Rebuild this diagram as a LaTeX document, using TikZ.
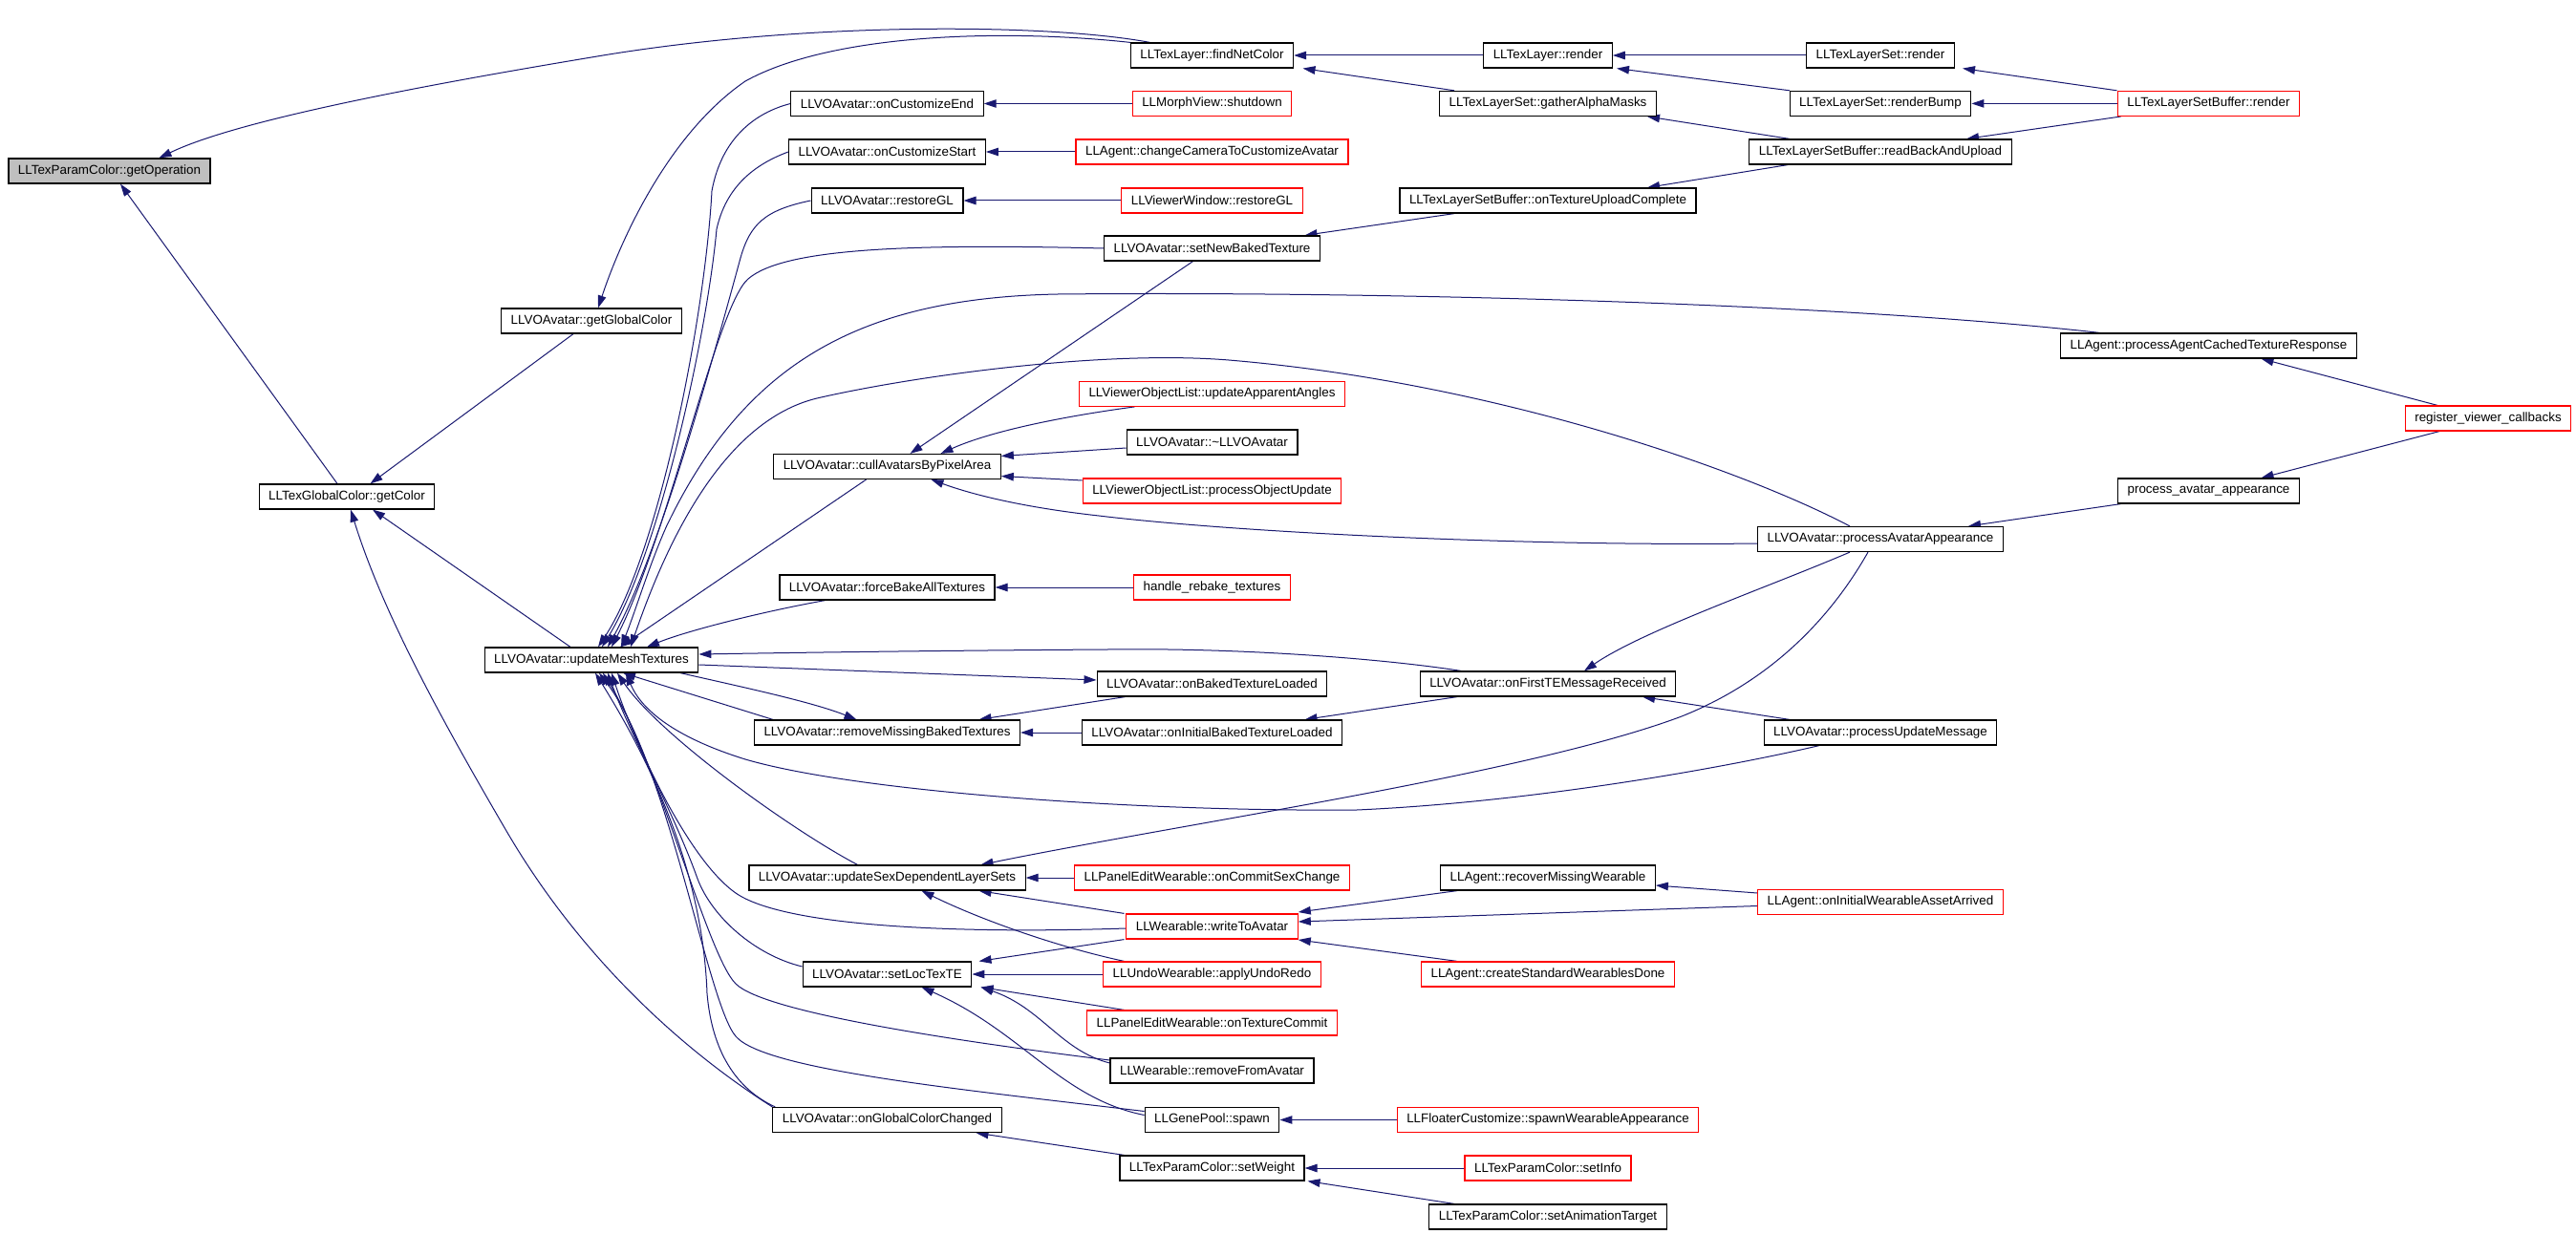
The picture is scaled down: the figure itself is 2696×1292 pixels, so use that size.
\documentclass[tikz,border=0pt]{standalone}
\usepackage{fontspec}
\setmainfont{Liberation Sans}
\usetikzlibrary{arrows.meta,backgrounds}
\definecolor{edgec}{HTML}{191970}
\definecolor{rootfill}{HTML}{BFBFBF}
\tikzset{
  fn/.style={draw=black, line width=1.2pt, fill=white, minimum height=26pt,
    inner xsep=10pt, inner ysep=0pt, font=\fontsize{13.4}{16}\selectfont},
  fnred/.style={fn, draw=red},
  fnroot/.style={fn, fill=rootfill},
  e/.style={draw=edgec, line width=1pt, -{Triangle[length=13pt,width=8.5pt]}},
}
\begin{document}
\begin{tikzpicture}[x=1pt,y=-1pt]
\useasboundingbox (0,0) rectangle (2696,1292);
% ---------- column 0-2
\node[fnroot] (gop) at (114.5,179) {LLTexParamColor::getOperation};
\node[fn] (gcol) at (363,520) {LLTexGlobalColor::getColor};
\node[fn] (ggc) at (619,336) {LLVOAvatar::getGlobalColor};
\node[fn] (umt) at (619,691) {LLVOAvatar::updateMeshTextures};
% ---------- column 3
\node[fn] (oce) at (928.5,108.5) {LLVOAvatar::onCustomizeEnd};
\node[fn] (ocs) at (928.5,159) {LLVOAvatar::onCustomizeStart};
\node[fn] (rgl) at (928.5,210) {LLVOAvatar::restoreGL};
\node[fn] (cull) at (928.5,488.5) {LLVOAvatar::cullAvatarsByPixelArea};
\node[fn] (fbt) at (928.5,615) {LLVOAvatar::forceBakeAllTextures};
\node[fn] (rmb) at (928.5,767) {LLVOAvatar::removeMissingBakedTextures};
\node[fn] (usd) at (928.5,919) {LLVOAvatar::updateSexDependentLayerSets};
\node[fn] (sltt) at (928.5,1020) {LLVOAvatar::setLocTexTE};
\node[fn] (ogc) at (928.5,1172.5) {LLVOAvatar::onGlobalColorChanged};
% ---------- column 4
\node[fn] (fnc) at (1268.5,58) {LLTexLayer::findNetColor};
\node[fnred] (mvs) at (1268.5,108.5) {LLMorphView::shutdown};
\node[fnred] (ccc) at (1268.5,159) {LLAgent::changeCameraToCustomizeAvatar};
\node[fnred] (vwr) at (1268.5,210) {LLViewerWindow::restoreGL};
\node[fn] (snb) at (1268.5,260) {LLVOAvatar::setNewBakedTexture};
\node[fnred] (uaa) at (1268.5,412.3) {LLViewerObjectList::updateApparentAngles};
\node[fn] (dtor) at (1268.5,463) {LLVOAvatar::\textasciitilde LLVOAvatar};
\node[fnred] (pou) at (1268.5,514) {LLViewerObjectList::processObjectUpdate};
\node[fnred] (hrt) at (1268.5,615) {handle\_rebake\_textures};
\node[fn] (obt) at (1268.5,716) {LLVOAvatar::onBakedTextureLoaded};
\node[fn] (oibt) at (1268.5,767) {LLVOAvatar::onInitialBakedTextureLoaded};
\node[fnred] (ocsc) at (1268.5,919) {LLPanelEditWearable::onCommitSexChange};
\node[fnred] (wta) at (1268.5,970) {LLWearable::writeToAvatar};
\node[fnred] (aur) at (1268.5,1020) {LLUndoWearable::applyUndoRedo};
\node[fnred] (otc) at (1268.5,1071) {LLPanelEditWearable::onTextureCommit};
\node[fn] (rfa) at (1268.5,1121) {LLWearable::removeFromAvatar};
\node[fn] (gps) at (1268.5,1172.5) {LLGenePool::spawn};
\node[fn] (sw) at (1268.5,1223) {LLTexParamColor::setWeight};
% ---------- column 5
\node[fn] (tlr) at (1620,58) {LLTexLayer::render};
\node[fn] (gam) at (1620,108.4) {LLTexLayerSet::gatherAlphaMasks};
\node[fn] (tuc) at (1620,210) {LLTexLayerSetBuffer::onTextureUploadComplete};
\node[fn] (oft) at (1620,716) {LLVOAvatar::onFirstTEMessageReceived};
\node[fn] (rmw) at (1620,919) {LLAgent::recoverMissingWearable};
\node[fnred] (csw) at (1620,1020) {LLAgent::createStandardWearablesDone};
\node[fnred] (fcs) at (1620,1172.5) {LLFloaterCustomize::spawnWearableAppearance};
\node[fnred] (si) at (1620,1223) {LLTexParamColor::setInfo};
\node[fn] (sat) at (1620,1274) {LLTexParamColor::setAnimationTarget};
% ---------- column 6
\node[fn] (tlsr) at (1968,58) {LLTexLayerSet::render};
\node[fn] (rb) at (1968,108.4) {LLTexLayerSet::renderBump};
\node[fn] (rbu) at (1968,159) {LLTexLayerSetBuffer::readBackAndUpload};
\node[fn] (paa) at (1968,564.5) {LLVOAvatar::processAvatarAppearance};
\node[fn] (pum) at (1968,767) {LLVOAvatar::processUpdateMessage};
\node[fnred] (oiwa) at (1968,944.5) {LLAgent::onInitialWearableAssetArrived};
% ---------- column 7-8
\node[fnred] (tlsbr) at (2311.5,108.4) {LLTexLayerSetBuffer::render};
\node[fn] (pact) at (2311.5,362) {LLAgent::processAgentCachedTextureResponse};
\node[fn] (pava) at (2311.5,514) {process\_avatar\_appearance};
\node[fnred] (rvc) at (2604,438) {register\_viewer\_callbacks};

\begin{scope}[on background layer]
\fill[white] (0,0) rectangle (2696,1292);
% into getOperation
\draw[e] ([xshift=-65pt]fnc.north) .. controls (1100,25) and (850,22) .. (631,58) .. controls (450,88) and (250,125) .. ([xshift=52pt]gop.north);
\draw[e] ([xshift=-10pt]gcol.north) -- ([xshift=11.5pt]gop.south);
% into getColor
\draw[e] ([xshift=-19pt]ggc.south) -- ([xshift=24.5pt]gcol.north);
\draw[e] ([xshift=-22pt]umt.north) -- ([xshift=27pt]gcol.south);
\draw[e] (ogc.north west) .. controls (700,1090) and (600,990) .. (530,870) .. controls (460,750) and (400,640) .. ([xshift=4pt]gcol.south);
% into getGlobalColor
\draw[e] (fnc.north west) .. controls (1050,30) and (870,35) .. (780,85) .. controls (700,140) and (650,250) .. ([xshift=7pt]ggc.north);
% into updateMeshTextures (top)
\draw[e] (oce.west) .. controls (790,118) and (755,145) .. (745,200) .. controls (738,330) and (690,580) .. ([xshift=7pt]umt.north);
\draw[e] (ocs.west) .. controls (790,172) and (760,195) .. (750,240) .. controls (740,350) and (690,580) .. ([xshift=11pt]umt.north);
\draw[e] (rgl.west) .. controls (800,220) and (785,235) .. (775,270) .. controls (745,380) and (690,580) .. ([xshift=17pt]umt.north);
\draw[e] (snb.west) .. controls (950,255) and (820,260) .. (783,292) .. controls (750,320) and (700,560) .. ([xshift=21pt]umt.north);
\draw[e] ([xshift=-114pt]pact.north) .. controls (1900,315) and (1400,305) .. (1107,308) .. controls (900,312) and (780,380) .. (698,550) .. controls (680,590) and (665,640) .. ([xshift=31pt]umt.north);
\draw[e] ([xshift=-32pt]paa.north) .. controls (1820,490) and (1560,400) .. (1286,377) .. controls (1150,366) and (950,395) .. (855,417) .. controls (760,440) and (700,560) .. ([xshift=41pt]umt.north);
\draw[e] ([xshift=-22pt]cull.south) -- ([xshift=30pt]umt.north);
\draw[e] ([xshift=-65pt]fbt.south) .. controls (800,640) and (720,660) .. ([xshift=58pt]umt.north);
% into updateMeshTextures (right / bottom)
\draw[e] ([xshift=-91pt]oft.north) .. controls (1450,690) and (1300,678) .. (1159,680) .. controls (1000,681) and (850,683) .. ([yshift=6pt]umt.east);
\draw[e] ([xshift=20pt]rmb.north west) -- ([xshift=33pt]umt.south);
\draw[e] ([xshift=-31pt]usd.north) .. controls (830,870) and (690,770) .. ([xshift=27pt]umt.south);
\draw[e] ([yshift=-2pt]wta.west) .. controls (1000,978) and (820,970) .. (770,935) .. controls (720,900) and (665,780) .. ([xshift=21pt]umt.south);
\draw[e] ([yshift=8pt]sltt.west) .. controls (790,1000) and (745,960) .. (730,920) .. controls (705,850) and (660,770) .. ([xshift=17pt]umt.south);
\draw[e] ([yshift=11pt]rfa.west) .. controls (1000,1090) and (800,1060) .. (770,1030) .. controls (740,1000) and (690,800) .. ([xshift=12pt]umt.south);
\draw[e] ([yshift=9pt]gps.west) .. controls (1000,1140) and (800,1120) .. (770,1085) .. controls (740,1050) and (700,800) .. ([xshift=8pt]umt.south);
\draw[e] ([xshift=3pt]ogc.north west) .. controls (770,1140) and (745,1100) .. (740,1040) .. controls (735,900) and (670,780) .. ([xshift=4pt]umt.south);
\draw[e] ([xshift=-64pt]pum.south) .. controls (1800,805) and (1600,840) .. (1420,848) .. controls (1200,850) and (900,830) .. (780,795) .. controls (700,770) and (670,740) .. ([xshift=36pt]umt.south);
% from updateMeshTextures
\draw[e] ([yshift=-5pt]umt.east) -- ([yshift=4pt]obt.west);
\draw[e] ([xshift=93pt]umt.south) .. controls (780,720) and (850,735) .. ([xshift=-32pt]rmb.north);
% into cullAvatarsByPixelArea
\draw[e] ([xshift=-20pt]snb.south) -- ([xshift=24pt]cull.north);
\draw[e] ([xshift=-81pt]uaa.south) .. controls (1120,435) and (1040,450) .. ([xshift=56pt]cull.north);
\draw[e] ([yshift=-6pt]dtor.west) -- ([yshift=11pt]cull.east);
\draw[e] ([yshift=11pt]pou.west) -- ([yshift=-10pt]cull.east);
\draw[e] ([yshift=-4.5pt]paa.west) .. controls (1600,572) and (1300,558) .. (1150,540) .. controls (1060,530) and (1010,515) .. ([xshift=46pt]cull.south);
% column 3 horizontal callers
\draw[e] (mvs.west) -- (oce.east);
\draw[e] (ccc.west) -- (ocs.east);
\draw[e] (vwr.west) -- (rgl.east);
\draw[e] (hrt.west) -- (fbt.east);
\draw[e] (oibt.west) -- (rmb.east);
\draw[e] (ocsc.west) -- (usd.east);
\draw[e] (aur.west) -- (sltt.east);
% texture layer chain
\draw[e] ([xshift=-98pt]tuc.south) -- ([xshift=97pt]snb.north);
\draw[e] ([xshift=-97pt]rbu.south) -- ([xshift=104pt]tuc.north);
\draw[e] ([xshift=-95pt]rbu.north) -- ([xshift=104pt]gam.south);
\draw[e] (tlr.west) -- (fnc.east);
\draw[e] ([xshift=-98pt]gam.north) -- ([xshift=95pt]fnc.south);
\draw[e] (tlsr.west) -- (tlr.east);
\draw[e] ([xshift=-95pt]rb.north) -- ([xshift=72pt]tlr.south);
\draw[e] ([xshift=-96pt]tlsbr.north) -- ([xshift=86pt]tlsr.south);
\draw[e] (tlsbr.west) -- (rb.east);
\draw[e] ([xshift=-92pt]tlsbr.south) -- ([xshift=90pt]rbu.north);
% register / appearance
\draw[e] ([xshift=-53pt]rvc.north) -- ([xshift=55pt]pact.south);
\draw[e] ([xshift=-51pt]rvc.south) -- ([xshift=55pt]pava.north);
\draw[e] ([xshift=-92pt]pava.south) -- ([xshift=92pt]paa.north);
\draw[e] ([xshift=-32pt]paa.south) .. controls (1850,615) and (1720,660) .. ([xshift=38pt]oft.north);
\draw[e] ([xshift=-13pt]paa.south) .. controls (1920,640) and (1860,710) .. (1760,750) .. controls (1600,810) and (1250,860) .. ([xshift=98pt]usd.north);
\draw[e] ([xshift=-95pt]oft.south) -- ([xshift=97pt]oibt.north);
\draw[e] ([xshift=-95pt]pum.north) -- ([xshift=99pt]oft.south);
\draw[e] ([xshift=-91pt]obt.south) -- ([xshift=96pt]rmb.north);
% sex dependent / loctex
\draw[e] ([xshift=-92pt]wta.north) -- ([xshift=96pt]usd.south);
\draw[e] ([xshift=-92pt]aur.north) .. controls (1100,990) and (1020,960) .. ([xshift=36pt]usd.south);
\draw[e] ([xshift=-92pt]wta.south) -- ([xshift=96pt]sltt.north);
\draw[e] ([xshift=-92pt]otc.north) -- ([xshift=98pt]sltt.south);
\draw[e] ([yshift=8pt]rfa.west) .. controls (1110,1100) and (1090,1055) .. ([xshift=98pt]sltt.south);
\draw[e] ([yshift=5pt]gps.west) .. controls (1110,1150) and (1070,1080) .. ([xshift=36pt]sltt.south);
% wearables
\draw[e] ([xshift=-95pt]rmw.south) -- ([yshift=15pt]wta.east);
\draw[e] ([yshift=-4pt]oiwa.west) -- ([yshift=5pt]wta.east);
\draw[e] ([xshift=-95pt]csw.north) -- ([yshift=-14pt]wta.east);
\draw[e] ([yshift=9.5pt]oiwa.west) -- ([yshift=-8pt]rmw.east);
\draw[e] (fcs.west) -- (gps.east);
% colour params
\draw[e] ([xshift=-92pt]sw.north) -- ([xshift=93pt]ogc.south);
\draw[e] (si.west) -- (sw.east);
\draw[e] ([xshift=-98pt]sat.north) -- ([xshift=100pt]sw.south);
\end{scope}
\end{tikzpicture}
\end{document}
